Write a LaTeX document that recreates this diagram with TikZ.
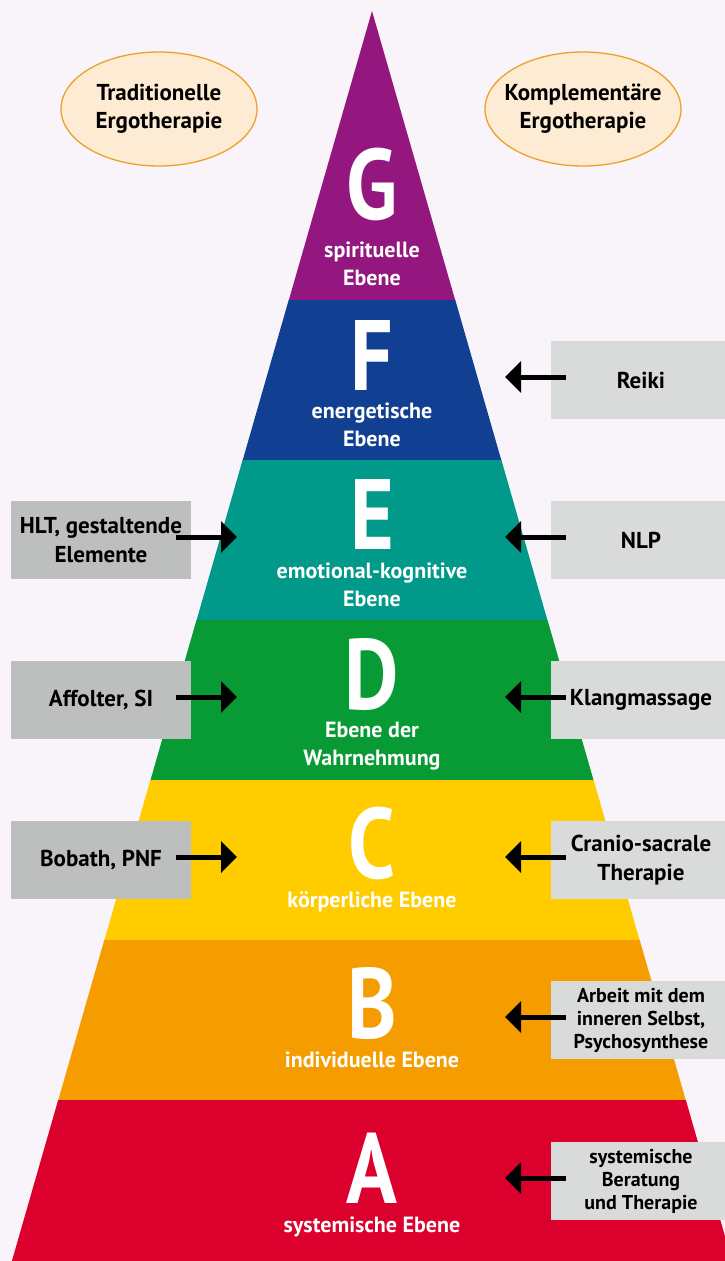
\documentclass[tikz,border=0pt]{standalone}
\usepackage{fontspec}
\setmainfont{PT Sans}
\newfontfamily\labelfont{PT Sans}
\newfontfamily\letterfont{PT Sans}[FakeStretch=0.84]
\usetikzlibrary{arrows.meta, shapes.geometric}

\definecolor{paper}{HTML}{F8F4FA}
\definecolor{ovalfill}{HTML}{FDEBD3}
\definecolor{ovalline}{HTML}{F0A02A}
\definecolor{boxdark}{HTML}{BDBEBE}
\definecolor{boxlight}{HTML}{D9DADA}
\definecolor{levG}{HTML}{93177E}
\definecolor{levF}{HTML}{113F92}
\definecolor{levE}{HTML}{00998A}
\definecolor{levD}{HTML}{089A35}
\definecolor{levC}{HTML}{FFCC00}
\definecolor{levB}{HTML}{F59C00}
\definecolor{levA}{HTML}{DC002D}

\begin{document}
\begin{tikzpicture}[x=1pt, y=-1pt,
                    letter/.style={font=\letterfont\bfseries\fontsize{100}{100}\selectfont, text=white, inner sep=0pt, anchor=base},
                    levellabel/.style={font=\labelfont\bfseries\fontsize{22}{28}\selectfont, text=white, align=center, inner sep=0pt, anchor=base},
                    method/.style={rectangle, minimum width=180pt, minimum height=78pt, inner sep=0pt, align=center, font=\labelfont\bfseries\fontsize{23}{29}\selectfont},
                    tradbox/.style={method, fill=boxdark},
                    compbox/.style={method, fill=boxlight},
                    smalltext/.style={font=\labelfont\bfseries\fontsize{20}{23}\selectfont},
                    school/.style={ellipse, draw=ovalline, fill=ovalfill, line width=1.3pt, minimum width=196pt, minimum height=114pt, inner xsep=-12pt, inner ysep=0pt, align=center, font=\labelfont\bfseries\fontsize{23}{28}\selectfont},
                    pointer/.style={-{Triangle[length=16pt,width=31pt]}, line width=5pt}]

    \useasboundingbox (0,0) rectangle (725,1261);
    \clip (0,0) rectangle (725,1261);
    \fill[paper] (0,0) rectangle (725,1261);

    % Pyramid bands
    \foreach \ya/\yb/\col in {11/300/levG, 300/460/levF, 460/620/levE, 620/780/levD, 780/940/levC, 940/1100/levB, 1100/1261/levA}{
        \pgfmathsetmacro\xa{(\ya-11)*0.2882}
        \pgfmathsetmacro\xb{(\yb-11)*0.2882}
        \fill[\col] (372-\xa,\ya) -- (372+\xa,\ya) -- (372+\xb,\yb+0.5) -- (372-\xb,\yb+0.5) -- cycle;
    }

    % Levels (label y = baseline of last line)
    \node[letter] (G) at (372,219) {G};
    \node[levellabel] (Glabel) at (372,285) {spirituelle\\Ebene};
    \node[letter] (F) at (372,390) {F};
    \node[levellabel] (Flabel) at (372,446) {energetische\\Ebene};
    \node[letter] (E) at (372,549) {E};
    \node[levellabel] (Elabel) at (372,606) {emotional-kognitive\\Ebene};
    \node[letter] (D) at (372,709) {D};
    \node[levellabel] (Dlabel) at (372,765) {Ebene der\\Wahrnehmung};
    \node[letter] (C) at (372,878) {C};
    \node[levellabel] (Clabel) at (372,907) {körperliche Ebene};
    \node[letter] (B) at (372,1038) {B};
    \node[levellabel] (Blabel) at (372,1067) {individuelle Ebene};
    \node[letter] (A) at (372,1203) {A};
    \node[levellabel] (Alabel) at (372,1232) {systemische Ebene};

    % Schools
    \node[school] (trad) at (159,109) {Traditionelle\\Ergotherapie};
    \node[school] (comp) at (583,109) {Komplementäre\\Ergotherapie};

    % Traditional methods
    \node[tradbox] (hlt) at (101,540) {HLT, gestaltende\\Elemente};
    \node[tradbox] (affolter) at (101,700) {Affolter, SI};
    \node[tradbox] (bobath) at (101,860) {Bobath, PNF};

    % Complementary methods
    \node[compbox] (reiki) at (641,380) {Reiki};
    \node[compbox] (nlp) at (641,540) {NLP};
    \node[compbox] (klang) at (641,700) {Klangmassage};
    \node[compbox] (cranio) at (641,860) {Cranio-sacrale\\Therapie};
    \node[compbox, smalltext] (arbeit) at (641,1020) {Arbeit mit dem\\inneren Selbst,\\Psychosynthese};
    \node[compbox, smalltext] (beratung) at (641,1181) {systemische\\Beratung\\und Therapie};

    % Arrows
    \coordinate (toE) at (237,537);
    \coordinate (toD) at (237,697);
    \coordinate (toC) at (237,857);
    \draw[pointer] ([xshift=-15pt, yshift=3pt]hlt.east) -- (toE);
    \draw[pointer] ([xshift=-15pt, yshift=3pt]affolter.east) -- (toD);
    \draw[pointer] ([xshift=-15pt, yshift=3pt]bobath.east) -- (toC);

    \coordinate (atF) at (505,377);
    \coordinate (atE) at (505,537);
    \coordinate (atD) at (505,697);
    \coordinate (atC) at (505,857);
    \coordinate (atB) at (505,1017);
    \coordinate (atA) at (505,1178);
    \draw[pointer] ([xshift=15pt, yshift=3pt]reiki.west) -- (atF);
    \draw[pointer] ([xshift=15pt, yshift=3pt]nlp.west) -- (atE);
    \draw[pointer] ([xshift=15pt, yshift=3pt]klang.west) -- (atD);
    \draw[pointer] ([xshift=15pt, yshift=3pt]cranio.west) -- (atC);
    \draw[pointer] ([xshift=15pt, yshift=3pt]arbeit.west) -- (atB);
    \draw[pointer] ([xshift=15pt, yshift=3pt]beratung.west) -- (atA);

\end{tikzpicture}
\end{document}
